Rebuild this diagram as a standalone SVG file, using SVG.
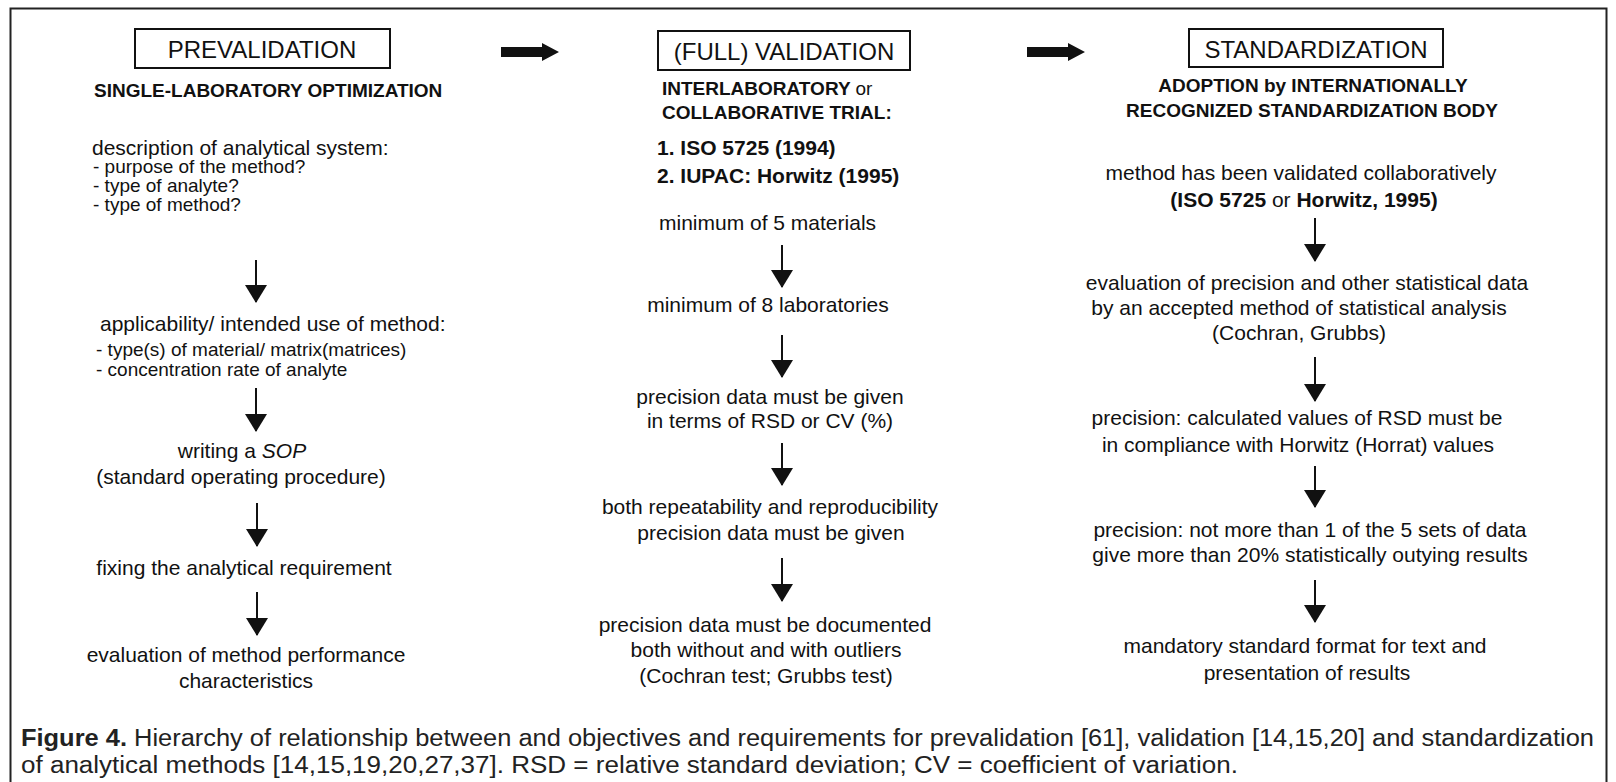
<svg xmlns="http://www.w3.org/2000/svg" width="1616" height="782" viewBox="0 0 1616 782">
<style>
  text { font-family: "Liberation Sans", Arial, Helvetica, sans-serif; fill: #111; }
  .title { font-size: 24px; }
  .hb { font-size: 19px; font-weight: bold; }
  .nb { font-weight: normal; }
  .r { font-size: 21px; }
  .rb { font-size: 21px; font-weight: bold; }
  .s { font-size: 19px; }
  .c { text-anchor: middle; }
  .box { fill: #fff; stroke: #111; stroke-width: 2; }
  .v { stroke: #111; stroke-width: 2; fill: none; marker-end: url(#ah); }
  .h { fill: #111; stroke: none; }
  .frame { fill: none; stroke: #222; stroke-width: 2; }
  .cap { font-size: 23px; fill: #222; }
</style>
<defs>
  <marker id="ah" viewBox="0 0 18 22" refX="17" refY="11" markerWidth="18" markerHeight="22" markerUnits="userSpaceOnUse" orient="auto">
    <path d="M0,0 L18,11 L0,22 Z" fill="#111"/>
  </marker>
</defs>
<rect x="0" y="0" width="1616" height="782" fill="#fff"/>
<path class="frame" d="M10.5,782 V8.5 H1606.5 V782"/>

<g id="prevalidation">
  <rect class="box" x="135" y="29" width="255" height="39"/>
  <text class="title c" x="262" y="58">PREVALIDATION</text>
  <text class="hb" x="94" y="97">SINGLE-LABORATORY OPTIMIZATION</text>
  <text class="r" x="92" y="155">description of analytical system:</text>
  <text class="s" x="93" y="173">- purpose of the method?</text>
  <text class="s" x="93" y="192">- type of analyte?</text>
  <text class="s" x="93" y="211">- type of method?</text>
  <text class="r" x="100" y="331">applicability/ intended use of method:</text>
  <text class="s" x="96" y="356">- type(s) of material/ matrix(matrices)</text>
  <text class="s" x="96" y="376">- concentration rate of analyte</text>
  <text class="r c" x="242" y="458">writing a <tspan font-style="italic">SOP</tspan></text>
  <text class="r c" x="241" y="484">(standard operating procedure)</text>
  <text class="r c" x="244" y="575">fixing the analytical requirement</text>
  <text class="r c" x="246" y="662">evaluation of method performance</text>
  <text class="r c" x="246" y="688">characteristics</text>
</g>

<g id="validation">
  <rect class="box" x="658" y="31" width="252" height="39"/>
  <text class="title c" x="784" y="60">(FULL) VALIDATION</text>
  <text class="hb" x="662" y="95">INTERLABORATORY <tspan class="nb">or</tspan></text>
  <text class="hb" x="662" y="119">COLLABORATIVE TRIAL:</text>
  <text class="rb" x="657" y="155">1. ISO 5725 (1994)</text>
  <text class="rb" x="657" y="183">2. IUPAC: Horwitz (1995)</text>
  <text class="r" x="659" y="230">minimum of 5 materials</text>
  <text class="r c" x="768" y="312">minimum of 8 laboratories</text>
  <text class="r c" x="770" y="404">precision data must be given</text>
  <text class="r c" x="770" y="428">in terms of RSD or CV (%)</text>
  <text class="r c" x="770" y="514">both repeatability and reproducibility</text>
  <text class="r c" x="771" y="540">precision data must be given</text>
  <text class="r c" x="765" y="632">precision data must be documented</text>
  <text class="r c" x="766" y="657">both without and with outliers</text>
  <text class="r c" x="766" y="683">(Cochran test; Grubbs test)</text>
</g>

<g id="standardization">
  <rect class="box" x="1189" y="29" width="254" height="38"/>
  <text class="title c" x="1316" y="58">STANDARDIZATION</text>
  <text class="hb c" x="1313" y="92">ADOPTION by INTERNATIONALLY</text>
  <text class="hb c" x="1312" y="117">RECOGNIZED STANDARDIZATION BODY</text>
  <text class="r c" x="1301" y="180">method has been validated collaboratively</text>
  <text class="rb c" x="1304" y="207">(ISO 5725 <tspan class="nb">or</tspan> Horwitz, 1995)</text>
  <text class="r c" x="1307" y="290">evaluation of precision and other statistical data</text>
  <text class="r c" x="1299" y="315">by an accepted method of statistical analysis</text>
  <text class="r c" x="1299" y="340">(Cochran, Grubbs)</text>
  <text class="r c" x="1297" y="425">precision: calculated values of RSD must be</text>
  <text class="r c" x="1298" y="452">in compliance with Horwitz (Horrat) values</text>
  <text class="r c" x="1310" y="537">precision: not more than 1 of the 5 sets of data</text>
  <text class="r c" x="1310" y="562">give more than 20% statistically outying results</text>
  <text class="r c" x="1305" y="653">mandatory standard format for text and</text>
  <text class="r c" x="1307" y="680">presentation of results</text>
</g>

<g id="connectors">
  <polygon class="h" points="501,47 542,47 542,43 559,52 542,61 542,57 501,57"/>
  <polygon class="h" points="1027,47 1068,47 1068,43 1085,52 1068,61 1068,57 1027,57"/>
  <line class="v" x1="256" y1="260" x2="256" y2="302"/>
  <line class="v" x1="256" y1="388" x2="256" y2="431"/>
  <line class="v" x1="257" y1="503" x2="257" y2="546"/>
  <line class="v" x1="257" y1="592" x2="257" y2="635"/>
  <line class="v" x1="782" y1="245" x2="782" y2="287"/>
  <line class="v" x1="782" y1="335" x2="782" y2="377"/>
  <line class="v" x1="782" y1="443" x2="782" y2="485"/>
  <line class="v" x1="782" y1="558" x2="782" y2="601"/>
  <line class="v" x1="1315" y1="218" x2="1315" y2="261"/>
  <line class="v" x1="1315" y1="357" x2="1315" y2="401"/>
  <line class="v" x1="1315" y1="466" x2="1315" y2="507"/>
  <line class="v" x1="1315" y1="580" x2="1315" y2="622"/>
</g>

<g id="caption">
  <text class="cap" x="21" y="746" textLength="1573" lengthAdjust="spacingAndGlyphs"><tspan font-weight="bold">Figure 4.</tspan>  Hierarchy of relationship between and objectives and requirements for prevalidation [61], validation [14,15,20] and standardization</text>
  <text class="cap" x="21" y="773" textLength="1217" lengthAdjust="spacingAndGlyphs">of analytical methods [14,15,19,20,27,37]. RSD = relative standard deviation; CV = coefficient of variation.</text>
</g>
</svg>
